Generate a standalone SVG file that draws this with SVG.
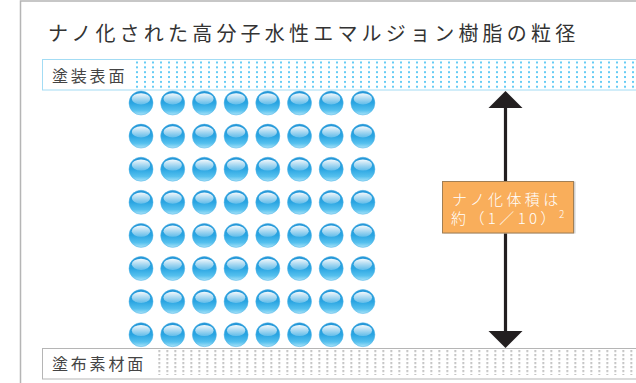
<svg xmlns="http://www.w3.org/2000/svg" width="636" height="383" viewBox="0 0 636 383">
<style>
.jp{font-family:"Noto Sans CJK JP","Noto Sans",sans-serif;}
.title{font-size:20px;fill:#333;letter-spacing:4.2px;}
.lbl{font-size:16px;fill:#444;letter-spacing:2.8px;}
.box{font-size:15px;fill:#fff;letter-spacing:3.4px;font-weight:300;}
</style>
<defs>
<pattern id="bdots" x="136" y="61.5" width="8" height="4.85" patternUnits="userSpaceOnUse">
<rect x="0" y="0" width="2" height="2" fill="#66ccf4"/>
</pattern>
<pattern id="gdots" x="158.5" y="350.3" width="8" height="4" patternUnits="userSpaceOnUse">
<rect x="0" y="0" width="1.5" height="1.5" fill="#909090"/>
</pattern>
<linearGradient id="sph" x1="0" y1="0" x2="0" y2="1">
<stop offset="0" stop-color="#2495d6"/>
<stop offset="0.5" stop-color="#2aa5e2"/>
<stop offset="0.8" stop-color="#55c0ee"/>
<stop offset="1" stop-color="#a8e2f8"/>
</linearGradient>
<linearGradient id="hl" x1="0" y1="0" x2="0" y2="1">
<stop offset="0" stop-color="#ffffff" stop-opacity="0.95"/>
<stop offset="1" stop-color="#ffffff" stop-opacity="0.25"/>
</linearGradient>
<symbol id="ball" viewBox="-12.5 -12.5 25 25" width="25" height="25" overflow="visible">
<circle cx="0" cy="0" r="12" fill="url(#sph)" stroke="#4fb3e6" stroke-width="0.5"/>
<ellipse cx="0" cy="-4.2" rx="9.2" ry="5.6" fill="url(#hl)"/>
</symbol>
</defs>
<rect x="0" y="0" width="636" height="383" fill="#fff"/>
<g id="frame">
<path d="M20.5 383 V1 H636" fill="none" stroke="#b5b5b5" stroke-width="1.5"/>
</g>
<g id="title"><text class="jp title" x="48" y="41">ナノ化された高分子水性エマルジョン樹脂の粒径</text></g>
<g id="surface">
<rect x="42.5" y="59.5" width="600" height="30.5" fill="#fff" stroke="#a3dcf4" stroke-width="1"/>
<rect x="135" y="60.5" width="502" height="29" fill="url(#bdots)"/>
<text class="jp lbl" x="52" y="81.5">塗装表面</text>
</g>
<g id="substrate">
<rect x="42.5" y="348.5" width="600" height="30.5" fill="#fff" stroke="#b5b5b5" stroke-width="1"/>
<rect x="157" y="350" width="480" height="25" fill="url(#gdots)"/>
<text class="jp lbl" x="52" y="370">塗布素材面</text>
</g>
<g id="particles">
<use href="#ball" x="128.5" y="90.5"/><use href="#ball" x="160.2" y="90.5"/><use href="#ball" x="191.9" y="90.5"/><use href="#ball" x="223.6" y="90.5"/><use href="#ball" x="255.3" y="90.5"/><use href="#ball" x="287" y="90.5"/><use href="#ball" x="318.7" y="90.5"/><use href="#ball" x="350.4" y="90.5"/>
<use href="#ball" x="128.5" y="123.6"/><use href="#ball" x="160.2" y="123.6"/><use href="#ball" x="191.9" y="123.6"/><use href="#ball" x="223.6" y="123.6"/><use href="#ball" x="255.3" y="123.6"/><use href="#ball" x="287" y="123.6"/><use href="#ball" x="318.7" y="123.6"/><use href="#ball" x="350.4" y="123.6"/>
<use href="#ball" x="128.5" y="156.7"/><use href="#ball" x="160.2" y="156.7"/><use href="#ball" x="191.9" y="156.7"/><use href="#ball" x="223.6" y="156.7"/><use href="#ball" x="255.3" y="156.7"/><use href="#ball" x="287" y="156.7"/><use href="#ball" x="318.7" y="156.7"/><use href="#ball" x="350.4" y="156.7"/>
<use href="#ball" x="128.5" y="189.8"/><use href="#ball" x="160.2" y="189.8"/><use href="#ball" x="191.9" y="189.8"/><use href="#ball" x="223.6" y="189.8"/><use href="#ball" x="255.3" y="189.8"/><use href="#ball" x="287" y="189.8"/><use href="#ball" x="318.7" y="189.8"/><use href="#ball" x="350.4" y="189.8"/>
<use href="#ball" x="128.5" y="222.9"/><use href="#ball" x="160.2" y="222.9"/><use href="#ball" x="191.9" y="222.9"/><use href="#ball" x="223.6" y="222.9"/><use href="#ball" x="255.3" y="222.9"/><use href="#ball" x="287" y="222.9"/><use href="#ball" x="318.7" y="222.9"/><use href="#ball" x="350.4" y="222.9"/>
<use href="#ball" x="128.5" y="256"/><use href="#ball" x="160.2" y="256"/><use href="#ball" x="191.9" y="256"/><use href="#ball" x="223.6" y="256"/><use href="#ball" x="255.3" y="256"/><use href="#ball" x="287" y="256"/><use href="#ball" x="318.7" y="256"/><use href="#ball" x="350.4" y="256"/>
<use href="#ball" x="128.5" y="289.1"/><use href="#ball" x="160.2" y="289.1"/><use href="#ball" x="191.9" y="289.1"/><use href="#ball" x="223.6" y="289.1"/><use href="#ball" x="255.3" y="289.1"/><use href="#ball" x="287" y="289.1"/><use href="#ball" x="318.7" y="289.1"/><use href="#ball" x="350.4" y="289.1"/>
<use href="#ball" x="128.5" y="322.2"/><use href="#ball" x="160.2" y="322.2"/><use href="#ball" x="191.9" y="322.2"/><use href="#ball" x="223.6" y="322.2"/><use href="#ball" x="255.3" y="322.2"/><use href="#ball" x="287" y="322.2"/><use href="#ball" x="318.7" y="322.2"/><use href="#ball" x="350.4" y="322.2"/>
</g>
<g id="connectors">
<line x1="505.5" y1="106" x2="505.5" y2="333" stroke="#231f20" stroke-width="3.2"/>
<polygon points="505.5,91 488.5,108 522.5,108" fill="#231f20"/>
<polygon points="505.5,348 488.5,331 522.5,331" fill="#231f20"/>
</g>
<g id="note">
<rect x="443.5" y="181.5" width="132" height="52" fill="#d0d0d0"/>
<rect x="442.5" y="181.5" width="131" height="51.5" fill="#f9ae5b" stroke="#a17f55" stroke-width="1"/>
<text class="jp box" x="452" y="204.5">ナノ化体積は</text>
<text class="jp box" x="451" y="224">約（1／10）<tspan font-size="10" dy="-6">2</tspan></text>
</g>
</svg>
